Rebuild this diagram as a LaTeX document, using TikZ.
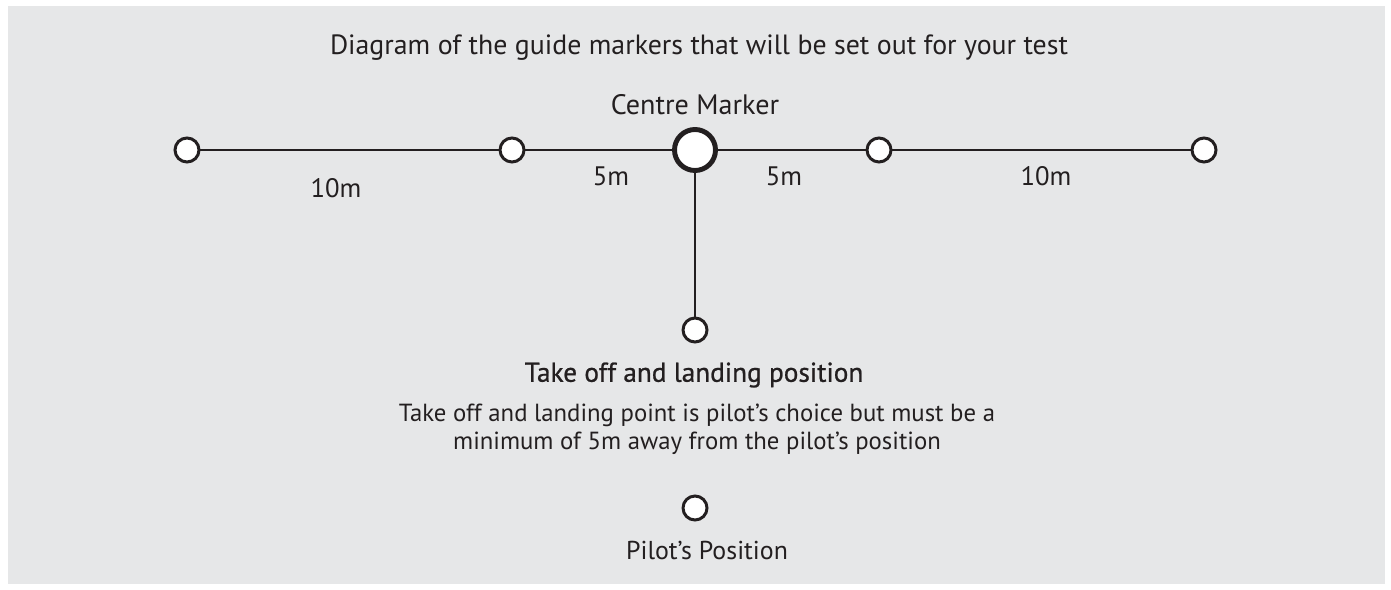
\documentclass[tikz,border=0pt]{standalone}
\usepackage{fontspec}
\setmainfont{PT Sans}
\usetikzlibrary{positioning}

\definecolor{bgGrey}{HTML}{E6E7E8}
\definecolor{inkDark}{HTML}{231F20}

\begin{document}
\begin{tikzpicture}[
    x = 0.025cm, y = -0.025cm, % one unit is one pixel of the layout
    inkDark,
    line width = 2.1pt, % line style
    every node/.style = {text = inkDark}
    ]

    \tikzset{
    marker/.style = {circle, draw = inkDark, fill = white, line width = 2.1pt,
        minimum size = 0.6cm, inner sep = 0pt},
    centre/.style = {marker, line width = 3.5pt, minimum size = 1.025cm},
    label/.style = {font = \fontsize{19}{22}\selectfont},
    }

    % background
    \fill[bgGrey] (8,6) rectangle (1385,584);
    \useasboundingbox (0,0) rectangle (1391,590);

    \node[font = \fontsize{19.8}{22}\selectfont] (title) at (699,48) {Diagram of the guide markers that will be set out for your test};
    \node[font = \fontsize{20}{22}\selectfont] (cmlabel) at (695,105) {Centre Marker};

    % markers along the line
    \node[marker] (m1) at (187,150) {};
    \node[marker] (m2) at (512,150) {};
    \node[centre] (c) at (695,150) {};
    \node[marker] (m4) at (879,150) {};
    \node[marker] (m5) at (1204,150) {};
    \node[marker] (tol) at (695,330) {};
    \node[marker] (pilot) at (695,508) {};

    \draw (m1) -- (m2);
    \draw (m2) -- (c);
    \draw (c) -- (m4);
    \draw (m4) -- (m5);
    \draw (c) -- (tol);

    \node[label] (d1) at (336,188) {10m};
    \node[label] (d2) at (611,176) {5m};
    \node[label] (d3) at (784,176) {5m};
    \node[label] (d4) at (1046,176) {10m};

    \node[font = \fontsize{19.4}{22}\selectfont\addfontfeature{FakeBold=0.8}] (tolname) at (694,375) {Take off and landing position};
    \node[font = \fontsize{17.6}{20}\selectfont, align = center] (tolnote) at (697,429)
        {Take off and landing point is pilot’s choice but must be a\\
         minimum of 5m away from the pilot’s position};
    \node[font = \fontsize{18.4}{22}\selectfont] (pilotname) at (707,550) {Pilot’s Position};
\end{tikzpicture}
\end{document}
